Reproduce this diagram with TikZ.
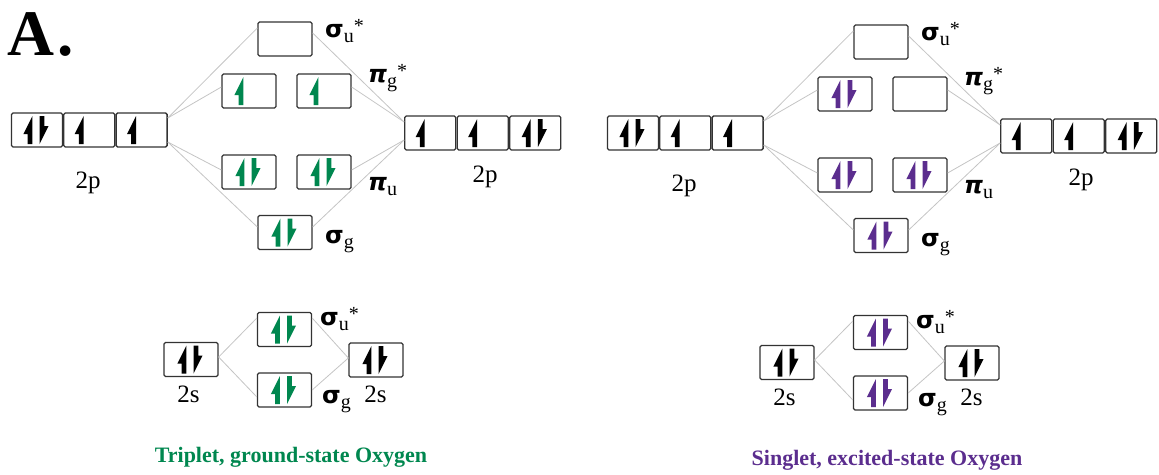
\documentclass[tikz,border=0pt]{standalone}
\usepackage{fontspec}
\setmainfont{Liberation Serif}
\newfontfamily\grk{DejaVu Sans}
\usetikzlibrary{calc}
\definecolor{eg}{HTML}{00874F}
\definecolor{ep}{HTML}{5B2D8E}
\definecolor{bx}{HTML}{333333}
\definecolor{ln}{HTML}{C4C4C4}
\newcommand\sig{{\grk\bfseries\fontsize{24}{24}\selectfont σ}}
\newcommand\pii{{\grk\bfseries\itshape\fontsize{24}{24}\selectfont π}}
\newcommand\lsub[1]{\raisebox{-5pt}{\fontsize{20}{20}\selectfont #1}}
\newcommand\lstar{\raisebox{5pt}{\fontsize{20}{20}\selectfont *}}
\newcommand\pairE[2]{\pic[#2] at ($(#1)+(-7,0)$) {eup}; \pic[#2] at ($(#1)+(5,0)$) {edn};}
\newcommand\oneE[2]{\pic[#2] at ($(#1)+(-8,0)$) {eup};}
\tikzset{
 orb/.style={draw=bx, line width=1.3, rounded corners=1.5, minimum width=54, minimum height=34, inner sep=0},
 cell/.style={orb, minimum width=51},
 fan/.style={draw=ln, line width=0.8},
 lab/.style={inner sep=0, anchor=base west},
 captxt/.style={font=\fontsize{22}{24}\selectfont\bfseries, anchor=base, inner sep=0},
 twop/.style={font=\fontsize{25}{26}\selectfont, anchor=base, inner sep=0},
 eup/.pic={\fill (2.4,14) -- (2.4,-14) -- (-6.6,4) -- (-2.4,4) -- (-2.4,14) -- cycle;},
 edn/.pic={\fill (-2.4,-14) -- (-2.4,14) -- (6.6,-4) -- (2.4,-4) -- (2.4,-14) -- cycle;},
}
\begin{document}
\begin{tikzpicture}[x=1pt,y=-1pt]
\useasboundingbox (0,0) rectangle (1159,474);
\node[anchor=base west, inner sep=0, font=\fontsize{65}{65}\selectfont\bfseries] (title) at (7,55) {A\kern3pt.};

% ===== Triplet (left) =====
\node[cell] (a1) at (37,130) {};
\node[cell] (a2) at (89.3,130) {};
\node[cell] (a3) at (141.6,130) {};
\node[cell] (b1) at (430.3,133) {};
\node[cell] (b2) at (482.8,133) {};
\node[cell] (b3) at (535.3,133) {};
\node[orb] (su) at (285,39) {};
\node[orb] (pgl) at (249,91) {};
\node[orb] (pgr) at (324,91) {};
\node[orb] (pul) at (249,172) {};
\node[orb] (pur) at (324,172) {};
\node[orb] (sg) at (285,232.5) {};
\draw[fan] ($(a3.east)+(0,-12)$) -- ($(su.west)+(0,-11)$);
\draw[fan] ($(a3.east)+(0,-12)$) -- ($(pgl.west)+(0,-4)$);
\draw[fan] ($(a3.east)+(0,12)$) -- ($(pul.west)+(0,-2)$);
\draw[fan] ($(a3.east)+(0,12)$) -- ($(sg.west)+(0,-5.5)$);
\draw[fan] ($(su.east)+(0,-6)$) -- ($(b1.west)+(0,-11)$);
\draw[fan] ($(pgr.east)+(0,-4)$) -- ($(b1.west)+(0,-11)$);
\draw[fan] ($(pur.east)+(0,-2)$) -- ($(b1.west)+(0,7)$);
\draw[fan] ($(sg.east)+(0,-5.5)$) -- ($(b1.west)+(0,7)$);
\pairE{a1}{black} \oneE{a2}{black} \oneE{a3}{black}
\oneE{b1}{black} \oneE{b2}{black} \pairE{b3}{black}
\oneE{pgl}{eg} \oneE{pgr}{eg}
\pairE{pul}{eg} \pairE{pur}{eg} \pairE{sg}{eg}
\node[lab] (lsu) at (325,37) {\sig\lsub{u}\lstar};
\node[lab] (lpg) at (368,82) {\pii\lsub{g}\lstar};
\node[lab] (lpu) at (368,190) {\pii\lsub{u}};
\node[lab] (lsg) at (325,243) {\sig\lsub{g}};
\node[twop] (t1) at (88,188) {2p};
\node[twop] (t2) at (485,182) {2p};
% bottom
\node[orb] (c1) at (191,359.5) {};
\node[orb] (bsu) at (284.5,329.5) {};
\node[orb] (bsg) at (284.5,390) {};
\node[orb] (c2) at (376,360) {};
\draw[fan] ($(c1.east)+(0,-2.5)$) -- ($(bsu.west)+(0,-11.5)$);
\draw[fan] ($(c1.east)+(0,-2.5)$) -- ($(bsg.west)+(0,7)$);
\draw[fan] ($(bsu.east)+(0,-11.5)$) -- ($(c2.west)+(0,-2)$);
\draw[fan] (bsg.east) -- ($(c2.west)+(0,-2)$);
\pairE{c1}{black} \pairE{c2}{black} \pairE{bsu}{eg} \pairE{bsg}{eg}
\node[lab] (lbsu) at (320,325) {\sig\lsub{u}\lstar};
\node[lab] (lbsg) at (322,403) {\sig\lsub{g}};
\node[twop] (t3) at (188.5,402) {2s};
\node[twop] (t4) at (375.5,402) {2s};
\node[captxt, text=eg] (cap1) at (291,462) {Triplet, ground-state Oxygen};

% ===== Singlet (right) =====
\begin{scope}[shift={(596,3)}]
\node[cell] (sa1) at (37,130) {};
\node[cell] (sa2) at (89.3,130) {};
\node[cell] (sa3) at (141.6,130) {};
\node[cell] (sb1) at (430.3,133) {};
\node[cell] (sb2) at (482.8,133) {};
\node[cell] (sb3) at (535.3,133) {};
\node[orb] (ssu) at (285,39) {};
\node[orb] (spgl) at (249,91) {};
\node[orb] (spgr) at (324,91) {};
\node[orb] (spul) at (249,172) {};
\node[orb] (spur) at (324,172) {};
\node[orb] (ssg) at (285,232.5) {};
\draw[fan] ($(sa3.east)+(0,-12)$) -- ($(ssu.west)+(0,-11)$);
\draw[fan] ($(sa3.east)+(0,-12)$) -- ($(spgl.west)+(0,-4)$);
\draw[fan] ($(sa3.east)+(0,12)$) -- ($(spul.west)+(0,-2)$);
\draw[fan] ($(sa3.east)+(0,12)$) -- ($(ssg.west)+(0,-5.5)$);
\draw[fan] ($(ssu.east)+(0,-6)$) -- ($(sb1.west)+(0,-11)$);
\draw[fan] ($(spgr.east)+(0,-4)$) -- ($(sb1.west)+(0,-11)$);
\draw[fan] ($(spur.east)+(0,-2)$) -- ($(sb1.west)+(0,7)$);
\draw[fan] ($(ssg.east)+(0,-5.5)$) -- ($(sb1.west)+(0,7)$);
\pairE{sa1}{black} \oneE{sa2}{black} \oneE{sa3}{black}
\oneE{sb1}{black} \oneE{sb2}{black} \pairE{sb3}{black}
\pairE{spgl}{ep}
\pairE{spul}{ep} \pairE{spur}{ep} \pairE{ssg}{ep}
\node[lab] (slsu) at (325,37) {\sig\lsub{u}\lstar};
\node[lab] (slpg) at (368,82) {\pii\lsub{g}\lstar};
\node[lab] (slpu) at (368,190) {\pii\lsub{u}};
\node[lab] (slsg) at (325,243) {\sig\lsub{g}};
\node[twop] (st1) at (88,188) {2p};
\node[twop] (st2) at (485,182) {2p};
\node[orb] (sc1) at (191,359.5) {};
\node[orb] (sbsu) at (284.5,329.5) {};
\node[orb] (sbsg) at (284.5,390) {};
\node[orb] (sc2) at (376,360) {};
\draw[fan] ($(sc1.east)+(0,-2.5)$) -- ($(sbsu.west)+(0,-11.5)$);
\draw[fan] ($(sc1.east)+(0,-2.5)$) -- ($(sbsg.west)+(0,7)$);
\draw[fan] ($(sbsu.east)+(0,-11.5)$) -- ($(sc2.west)+(0,-2)$);
\draw[fan] (sbsg.east) -- ($(sc2.west)+(0,-2)$);
\pairE{sc1}{black} \pairE{sc2}{black} \pairE{sbsu}{ep} \pairE{sbsg}{ep}
\node[lab] (slbsu) at (320,325) {\sig\lsub{u}\lstar};
\node[lab] (slbsg) at (322,403) {\sig\lsub{g}};
\node[twop] (st3) at (188.5,402) {2s};
\node[twop] (st4) at (375.5,402) {2s};
\node[captxt, text=ep] (cap2) at (291,462) {Singlet, excited-state Oxygen};
\end{scope}
\end{tikzpicture}
\end{document}
